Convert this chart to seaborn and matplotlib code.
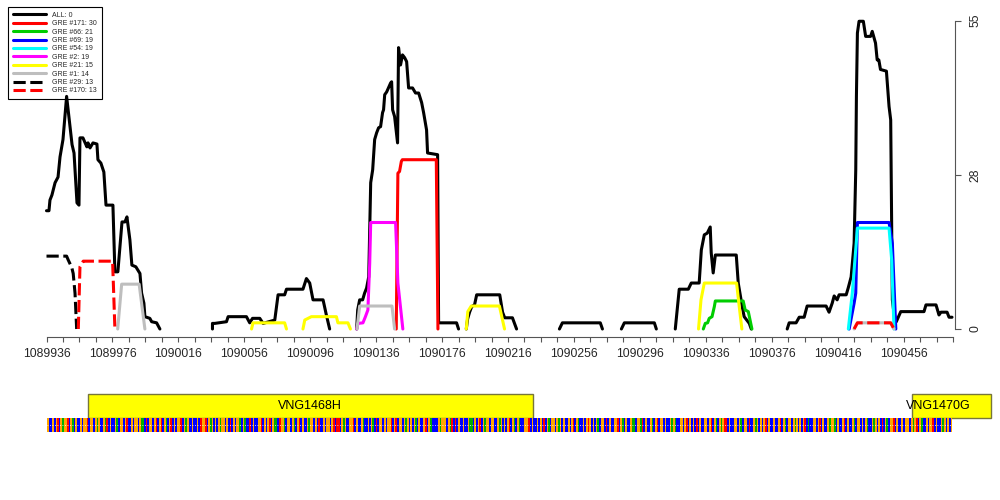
import numpy as np
import pandas as pd
import seaborn as sns
import matplotlib.pyplot as plt
from matplotlib.lines import Line2D
from matplotlib.patches import Rectangle

START = 1089936
END = 1090486

# (offset from START in bp, count) ; one inner list per drawn segment
ALL = [
    [(0, 21.1), (1.5, 21.1), (2.1, 23.0), (3.3, 23.9), (5.2, 26.1), (7.0, 27.1), (8.2, 30.7), (10.0, 33.8),
     (12.2, 41.5), (15.5, 32.9), (16.7, 31.4), (18.5, 22.5), (19.7, 22.1), (20.3, 34.1), (22.1, 34.1),
     (24.5, 32.5), (25.2, 33.2), (26.4, 32.3), (28.2, 33.2), (30.6, 33.0), (31.2, 30.2), (33.0, 29.6),
     (34.8, 28.0), (36.1, 22.1), (40.3, 22.1), (41.5, 10.2), (43.3, 10.2), (45.8, 19.1), (47.6, 19.1),
     (48.8, 20.0), (50.6, 15.9), (51.8, 11.4), (54.2, 11.1), (56.7, 9.9), (57.7, 6.4), (59.1, 4.6),
     (59.7, 2.2), (62.7, 1.9), (63.8, 1.3), (66.8, 1.1), (68.8, 0)],
    [(100.7, 0), (100.7, 1.0), (102.1, 1.0), (109.2, 1.3), (110.2, 2.2), (121.3, 2.2), (123.3, 1.1),
     (125.0, 1.9), (129.4, 1.9), (131.4, 1.0), (138.5, 1.6), (140.5, 6.1), (144.5, 6.1), (145.6, 7.1),
     (155.6, 7.1), (157.7, 9.0), (159.7, 8.2), (161.7, 5.2), (167.8, 5.2), (169.8, 2.5), (171.8, 0)],
    [(188.2, 0), (188.8, 3.4), (190.0, 5.2), (191.8, 5.2), (193.0, 6.4), (194.2, 7.3), (195.5, 9.3),
     (196.7, 26.1), (197.9, 28.4), (199.1, 33.8), (200.3, 35.0), (201.5, 35.9), (202.7, 36.1),
     (203.9, 38.6), (204.5, 39.1), (205.2, 41.8), (206.4, 42.3), (208.8, 43.9), (209.4, 44.1),
     (210.0, 39.1), (211.2, 37.9), (213.0, 33.2), (213.6, 50.2), (214.8, 47.1), (216.0, 48.9),
     (217.3, 48.4), (218.5, 47.7), (219.7, 43.0), (222.1, 43.0), (223.9, 42.1), (225.8, 42.1),
     (227.6, 40.4), (228.8, 38.6), (230.6, 35.5), (231.2, 31.4), (237.3, 31.1), (237.9, 1.1),
     (248.8, 1.1), (250.0, 0)],
    [(254.7, 0), (255.5, 1.8), (256.7, 3.0), (258.0, 4.0), (259.7, 4.3), (261.0, 6.1), (275.0, 6.1),
     (276.7, 3.0), (278.0, 2.0), (282.7, 2.0), (285.2, 0)],
    [(311.2, 0), (313.0, 1.1), (336.0, 1.1), (337.3, 0)],
    [(348.8, 0), (350.6, 1.1), (368.8, 1.1), (370.0, 0)],
    [(381.5, 0), (383.9, 7.1), (389.4, 7.1), (391.2, 8.2), (396.0, 8.2), (397.3, 14.1), (399.1, 16.8),
     (400.9, 17.1), (402.7, 18.2), (403.3, 13.6), (404.5, 10.0), (405.8, 13.2), (418.5, 13.2),
     (419.7, 8.2), (422.1, 4.0), (423.3, 2.2), (426.4, 1.0), (427.6, 0)],
    [(449.4, 0), (450.6, 1.1), (454.8, 1.1), (456.7, 2.1), (459.7, 2.1), (461.5, 4.1), (473.0, 4.1),
     (474.8, 3.0), (476.7, 4.6), (477.9, 5.9), (479.7, 5.2), (480.9, 6.1), (485.2, 6.1), (486.4, 7.3),
     (488.2, 9.3), (490.0, 15.3), (491.0, 28.4), (491.4, 41.5), (492.0, 52.8), (493.0, 54.9),
     (495.6, 54.9), (497.0, 52.2), (500.0, 52.2), (501.0, 53.1), (503.0, 51.0), (504.0, 48.0),
     (505.0, 48.0), (506.0, 46.3), (509.6, 46.0), (511.2, 39.7), (512.2, 37.3), (513.2, 5.2),
     (514.2, 2.8), (515.6, 1.3), (518.3, 3.1), (532.4, 3.1), (533.6, 4.3), (539.7, 4.3), (541.5, 2.5),
     (542.7, 3.0), (546.4, 3.0), (547.6, 2.1), (549.4, 2.1)],
]
GRE171 = [[(212.2, 0), (213.2, 27.8), (214.2, 28.1), (215.3, 29.9), (215.9, 30.2), (236.5, 30.2), (237.5, 0)]]
GRE66 = [[(398.5, 0), (399.7, 1.0), (401.1, 1.1), (402.1, 1.9), (403.8, 2.2), (405.2, 4.0), (405.8, 5.0),
          (422.7, 5.0), (423.9, 3.4), (425.8, 3.1), (428.0, 0)]]
GRE69 = [[(487.0, 0), (490.0, 4.6), (491.0, 6.4), (492.0, 19.0), (511.2, 19.0), (513.2, 15.3), (515.3, 0)]]
GRE54 = [[(486.5, 0), (488.9, 6.4), (492.0, 18.0), (511.2, 18.0), (512.8, 12.3), (514.2, 0)]]
GRE2 = [[(188.2, 0), (189.0, 1.0), (192.0, 1.1), (193.5, 2.2), (195.0, 3.4), (196.1, 11.7), (196.7, 19.0),
         (211.8, 19.0), (213.2, 8.2), (216.2, 0)]]
GRE21 = [
    [(124.4, 0), (125.3, 1.1), (144.5, 1.1), (145.6, 0)],
    [(155.6, 0), (156.7, 1.6), (160.7, 2.2), (175.9, 2.2), (176.8, 1.1), (182.9, 1.1), (184.4, 0)],
    [(254.7, 0), (255.6, 3.1), (257.7, 4.1), (274.8, 4.1), (277.9, 0)],
    [(395.6, 0), (397.1, 5.2), (399.1, 8.2), (418.7, 8.2), (420.3, 4.0), (421.9, 0)],
]
GRE1 = [
    [(43.2, 0), (45.6, 8.0), (56.2, 8.0), (59.7, 0)],
    [(188.4, 0), (190.0, 4.1), (209.6, 4.1), (211.2, 0)],
    [(490.0, 0), (492.0, 1.1), (512.2, 1.1), (514.2, 0)],
]
GRE29 = [[(0, 13.0), (12.2, 13.0), (13.2, 12.3), (15.3, 11.0), (16.2, 9.9), (17.3, 6.4), (18.3, 0)]]
GRE170 = [
    [(19.3, 0), (20.3, 11.1), (22.3, 12.1), (40.1, 12.1), (41.5, 0)],
    [(490.0, 0), (492.0, 1.1), (512.2, 1.1), (514.2, 0)],
]

NAMES = ["ALL: 0", "GRE #171: 30", "GRE #66: 21", "GRE #69: 19", "GRE #54: 19",
         "GRE #2: 19", "GRE #21: 15", "GRE #1: 14", "GRE #29: 13", "GRE #170: 13"]
SERIES = [ALL, GRE171, GRE66, GRE69, GRE54, GRE2, GRE21, GRE1, GRE29, GRE170]
COLORS = ["black", "#FF0000", "#00CD00", "#0000FF", "#00FFFF",
          "#FF00FF", "#FFFF00", "#BEBEBE", "black", "#FF0000"]
DASHES = ["", "", "", "", "", "", "", "", (4, 1.5), (4, 1.5)]

# genes: name, start, end (bp)
GENES = [("VNG1468H", 1089961, 1090231), ("VNG1470G", 1090461, 1090509)]
GENE_TEXT_X = [1090096, 1090477]

SEQ = (
    "GCCGCGTCGAGGTCGACGCCGCGGTCGGCGAGCCGATCGCCGACGGCGTC"
    "CGCGGCGAACTCGGCGTCGTCGACGTCGCGGTCGAGCCGCCGCTGGTCGA"
    "GCGCGAGGCGCTCGCGGACGACCTCGCCGGTCGCGTCGAACTGGACGGCG"
    "ACGTCGCCGAGGCGCTCCGCGGCGTCTTCGAGCCGGTCGCCGACCGCGAC"
    "TCGGCGCGGTCGTCGGCGAGCGCGACGCCGTCGACCCCGAGGGCGATCTC"
    "GCCGCCGAACGCGTCGAGGCGGCCGAGCGCGTCGACGACCGGGTCGCCGC"
    "GCTCGACGGCGAGCGCCGCGTCGACCGCGTGCGCGACGGCTCGCCGGTCG"
    "ACGCCGAACGGATCGCCGACGTCGGCGCCGAGACCGGCGTCGCGCTCGCC"
    "GGCGTCGACGAGTTCGCCGGCGACGGCTCCGAGCGCGTCGCCGCCGTCGA"
    "CGGCGAGCGCGTCACCGGCGTCGCCGAGGACGCCGTCGCCGACGGCGCGA"
    "CCGAGCGCTCGACGGTCGCCGCGGGCGAGTCGACCGCGGTCGCCGAGCGC"
    "G"
)
BASE_COLORS = {"A": "#00B000", "C": "#0000FF", "G": "#FFA500", "T": "#FF0000"}

rows = []
for name, segs in zip(NAMES, SERIES):
    for k, seg in enumerate(segs):
        for x, y in seg:
            rows.append((START + x, y, name, f"{name}-{k}"))
df = pd.DataFrame(rows, columns=["pos", "count", "series", "seg"])

sns.set_theme(style="white")
plt.rcParams["font.family"] = ["Liberation Sans", "DejaVu Sans"]

fig = plt.figure(figsize=(10, 5), dpi=100)
ax = fig.add_axes([0.0465, 0.342, 0.9065, 0.6166])

sns.lineplot(data=df, x="pos", y="count", hue="series", style="series", units="seg",
             estimator=None, sort=False, hue_order=NAMES, style_order=NAMES,
             palette=dict(zip(NAMES, COLORS)), dashes=dict(zip(NAMES, DASHES)),
             linewidth=2.2, legend=False, ax=ax)
for ln in ax.lines:
    ln.set_clip_on(False)
    ln.set_solid_joinstyle("round")

ax.set_xlim(START, END)
ax.set_ylim(0, 55)
ax.set_xlabel("")
ax.set_ylabel("")
ax.spines["left"].set_visible(False)
ax.spines["top"].set_visible(False)
ax.spines["bottom"].set_position(("outward", 5.8))
ax.spines["right"].set_position(("outward", 1.5))
for s in ("bottom", "right"):
    ax.spines[s].set_color("#555555")
    ax.spines[s].set_linewidth(0.8)

ax.set_xticks(np.arange(START, END - 29, 40))
ax.set_xticklabels([str(v) for v in np.arange(START, END - 29, 40)])
ax.set_xticks(np.arange(START, END + 1, 10), minor=True)
ax.tick_params(axis="x", which="both", direction="out", length=3.6, width=0.8,
               color="#555555", labelsize=8.7, pad=4, bottom=True)

ax.yaxis.tick_right()
ax.set_yticks([0, 27.5, 55])
ax.set_yticklabels(["0", "28", "55"])
ax.tick_params(axis="y", direction="out", length=4.3, width=0.8, color="#555555",
               labelsize=8.7, pad=6, right=True, left=False, labelrotation=90)
for t in ax.get_yticklabels():
    t.set_va("center")

handles = [Line2D([], [], color=c, lw=2.2, linestyle="-" if d == "" else (0, d))
           for c, d in zip(COLORS, DASHES)]
leg = ax.legend(handles, NAMES, loc="upper left", bbox_to_anchor=(0.008, 1 - 7 / 500),
                bbox_transform=fig.transFigure, fontsize=5, frameon=True, fancybox=False,
                edgecolor="black", framealpha=1, borderpad=0.7, labelspacing=0.2,
                handlelength=4.7, handletextpad=1.0, borderaxespad=0)
leg.get_frame().set_linewidth(0.8)
leg.set_zorder(1)

# gene track
axg = fig.add_axes([0.0465, 1 - 418 / 500, 0.9065, 24 / 500])
axg.set_xlim(START, END)
axg.set_ylim(0, 1)
axg.axis("off")
for (gname, gs, ge), tx in zip(GENES, GENE_TEXT_X):
    axg.add_patch(Rectangle((gs, 0), ge - gs, 1, facecolor="#FFFF00", edgecolor="#77763a",
                            lw=1, clip_on=False))
    axg.text(tx, 0.5, gname, ha="center", va="center", fontsize=9, color="black", clip_on=False)

# sequence strip
axs = fig.add_axes([0.0465, 1 - 432 / 500, 0.9065, 14 / 500])
axs.set_xlim(START - 1, END + 1)
axs.set_ylim(0, 1)
axs.axis("off")
axs.bar(START + np.arange(len(SEQ)), 1, width=1.0, bottom=0,
        color=[BASE_COLORS[b] for b in SEQ], linewidth=0)
axs.axhline(0.5, color="white", lw=0.6, ls=(0, (1, 2)))

fig.savefig("out.png", dpi=100)
